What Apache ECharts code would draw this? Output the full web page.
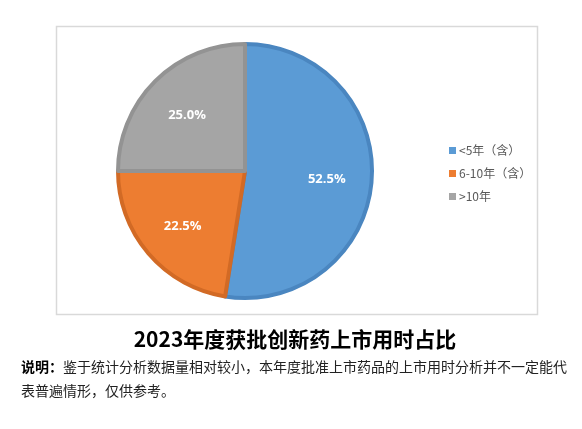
<!DOCTYPE html>
<html>
<head>
<meta charset="utf-8">
<script src="https://cdn.jsdelivr.net/npm/echarts@6/dist/echarts.min.js"></script>
<style>
  html, body { margin: 0; padding: 0; background: #fff; }
  #chart { width: 582px; height: 429px; }
</style>
</head>
<body>
<div id="chart"></div>
<script>
// Approval time buckets and their shares (%)
const categories = ['<5年（含）', '6-10年（含）', '>10年'];
const shares = [52.5, 22.5, 25.0];
const fillColors = ['#5B9BD5', '#ED7D31', '#A5A5A5'];
const edgeColors = ['#4A86C0', '#D26A25', '#939393'];
const titleText = '2023年度获批创新药上市用时占比';
const noteLead = '说明：';
const noteLine1 = '鉴于统计分析数据量相对较小，本年度批准上市药品的上市用时分析并不一定能代';
const noteLine2 = '表普遍情形，仅供参考。';

const sliceData = categories.map((name, i) => ({
  name: name,
  value: shares[i],
  itemStyle: { color: fillColors[i], borderColor: edgeColors[i] }
}));

const chart = echarts.init(document.getElementById('chart'), null, { renderer: 'canvas' });

chart.setOption({
  backgroundColor: '#ffffff',
  animation: false,
  legend: {
    orient: 'vertical',
    left: 444,
    top: 138,
    itemWidth: 7,
    itemHeight: 7,
    itemGap: 8,
    icon: 'rect',
    itemStyle: { borderWidth: 0 },
    data: categories,
    textStyle: {
      color: '#595959',
      fontSize: 12,
      lineHeight: 15,
      fontFamily: '"Noto Sans CJK SC", sans-serif',
      padding: [0, 0, 0, -2]
    }
  },
  graphic: [
    {
      type: 'rect',
      silent: true,
      shape: { x: 56.5, y: 26.5, width: 481, height: 288 },
      style: { fill: 'none', stroke: '#d9d9d9', lineWidth: 1.5 },
      z: -1
    },
    {
      type: 'text',
      silent: true,
      x: 295,
      y: 339,
      style: {
        text: titleText,
        fill: '#000',
        font: 'bold 21px "Noto Sans CJK SC", sans-serif',
        align: 'center',
        verticalAlign: 'middle'
      }
    },
    {
      type: 'text',
      silent: true,
      x: 21,
      y: 367,
      style: {
        text: noteLead,
        fill: '#000',
        font: 'bold 14px "Noto Sans CJK SC", sans-serif',
        verticalAlign: 'middle'
      }
    },
    {
      type: 'text',
      silent: true,
      x: 63,
      y: 367,
      style: {
        text: noteLine1,
        fill: '#222',
        font: '14px "Noto Sans CJK SC", sans-serif',
        verticalAlign: 'middle'
      }
    },
    {
      type: 'text',
      silent: true,
      x: 21,
      y: 391,
      style: {
        text: noteLine2,
        fill: '#222',
        font: '14px "Noto Sans CJK SC", sans-serif',
        verticalAlign: 'middle'
      }
    }
  ],
  series: [
    {
      type: 'pie',
      center: [245, 171],
      radius: [0, 127],
      startAngle: 90,
      clockwise: true,
      silent: true,
      label: { show: false },
      labelLine: { show: false },
      itemStyle: { borderWidth: 4 },
      data: sliceData
    },
    {
      // invisible disc that only carries the percentage labels further out
      type: 'pie',
      center: [245, 173],
      radius: [0, 158],
      startAngle: 90,
      clockwise: true,
      silent: true,
      itemStyle: { color: 'rgba(0,0,0,0)', borderWidth: 0 },
      labelLine: { show: false },
      label: {
        show: true,
        position: 'inside',
        color: '#fff',
        fontSize: 13,
        fontWeight: 'bold',
        fontFamily: '"Open Sans", sans-serif',
        formatter: p => p.value.toFixed(1) + '%'
      },
      data: categories.map((name, i) => ({ name: name, value: shares[i] }))
    }
  ]
});
</script>
</body>
</html>
